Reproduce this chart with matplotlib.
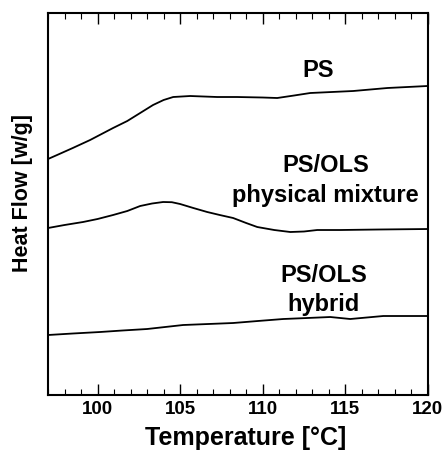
import matplotlib.pyplot as plt
import numpy as np
from matplotlib.ticker import MultipleLocator

plt.rcParams['font.family'] = ['Liberation Sans', 'DejaVu Sans']
plt.rcParams['font.weight'] = 'bold'

# DSC traces, heat flow in arbitrary units (curves offset vertically)
temp_ps = [97.0, 97.55, 98.5, 99.55, 100.94, 101.8, 102.58, 103.36, 104.0, 104.58,
           105.61, 107.24, 108.45, 110.0, 110.88, 111.9, 112.88, 115.48, 117.55, 119.97]
hf_ps = [236, 240, 247, 255, 267, 274, 282, 290, 295, 298,
         299, 298, 298, 297.5, 297, 299.5, 302, 304, 307, 309]

temp_mix = [97.0, 98.0, 99.12, 100.0, 100.94, 101.8, 102.58, 103.3, 103.97, 104.5, 105.0,
            105.8, 106.64, 107.4, 108.21, 109.0, 109.67, 110.7, 111.67, 112.5, 113.3,
            114.7, 117.0, 120.0]
hf_mix = [167, 170, 173, 176, 180, 184, 189, 191.5, 193, 192.8, 191,
          187, 183, 180, 177, 172, 168, 165, 163, 163.5, 165,
          165, 165.5, 166]

temp_hyb = [97.0, 98.5, 100.15, 101.5, 103.0, 105.18, 106.7, 108.21, 109.7, 111.24,
            112.7, 114.09, 115.3, 116.3, 117.3, 118.7, 120.0]
hf_hyb = [60, 61.5, 63, 64.5, 66, 70, 71, 72, 74, 76,
          77, 78, 76, 77.5, 79, 79, 79]

fig = plt.figure(figsize=(4.42, 4.5), dpi=100)
ax = fig.add_axes([0.1086, 0.1222, 0.8594, 0.8489])

for t, h in [(temp_ps, hf_ps), (temp_mix, hf_mix), (temp_hyb, hf_hyb)]:
    ax.plot(t, h, color='black', lw=1.3)

ax.set_xlim(97, 120)
ax.set_ylim(0, 382)
ax.xaxis.set_major_locator(MultipleLocator(5))
ax.xaxis.set_minor_locator(MultipleLocator(1))
ax.tick_params(axis='x', which='both', direction='in', top=True, labelsize=13.5, pad=4)
ax.tick_params(axis='x', which='major', length=8, width=1)
ax.tick_params(axis='x', which='minor', length=4, width=0.8)
ax.set_yticks([])
for s in ax.spines.values():
    s.set_linewidth(1.5)

ax.set_xlabel('Temperature [°C]', fontsize=18, fontweight='bold', va='center')
ax.xaxis.set_label_coords(0.52, -0.113)
ax.set_ylabel('Heat Flow [w/g]', fontsize=15.5, fontweight='bold', va='center')
ax.yaxis.set_label_coords(-0.066, 0.53)

ax.text(113.36, 325, 'PS', ha='center', va='center', fontsize=17, fontweight='bold')
ax.text(113.8, 230, 'PS/OLS', ha='center', va='center', fontsize=17, fontweight='bold')
ax.text(113.8, 200, 'physical mixture', ha='center', va='center', fontsize=17, fontweight='bold')
ax.text(113.7, 120, 'PS/OLS', ha='center', va='center', fontsize=17, fontweight='bold')
ax.text(113.7, 91, 'hybrid', ha='center', va='center', fontsize=17, fontweight='bold')

fig.savefig('out.png', dpi=100)
